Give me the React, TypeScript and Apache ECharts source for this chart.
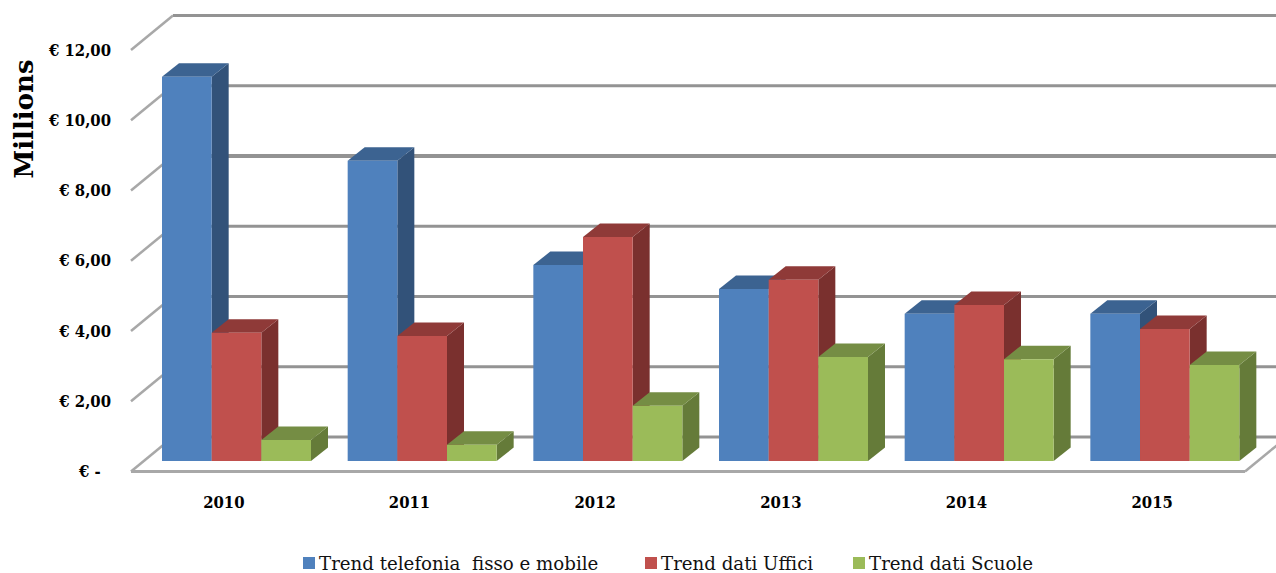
import React, { useEffect, useRef } from "react";
import * as echarts from "echarts";

const categories = ["2010", "2011", "2012", "2013", "2014", "2015"];
const telefonia = [10.94, 8.55, 5.58, 4.9, 4.19, 4.19];
const uffici = [3.65, 3.56, 6.38, 5.16, 4.44, 3.76];
const scuole = [0.6, 0.46, 1.57, 2.96, 2.9, 2.73];
const ticks = [0, 2, 4, 6, 8, 10, 12];
const names = ["Trend telefonia  fisso e mobile", "Trend dati Uffici", "Trend dati Scuole"];

const FONT = "'DejaVu Serif', serif";
const FONT_COND = "'DejaVu Serif Condensed', 'DejaVu Serif', serif";
const palette = [
  { face: "#4f81bd", top: "#3c6391", side: "#325279" },
  { face: "#c0504d", top: "#8f3a38", side: "#7a302e" },
  { face: "#9bbb59", top: "#758d44", side: "#657b39" },
];

const barSeries = (slot: number, values: number[]) => ({
  type: "custom",
  name: names[slot],
  coordinateSystem: "cartesian2d",
  itemStyle: { color: palette[slot].face },
  encode: { x: 0, y: 1 },
  z: 3 + slot,
  silent: true,
  data: values.map((v, i) => [i, v]),
  renderItem: (_p: any, api: any) => {
    const idx = api.value(0);
    const band = api.size([1, 0])[0];
    const top = api.coord([idx, api.value(1)]);
    const base = api.coord([idx, 0]);
    const w = band * 0.2675;
    const xL = top[0] - band / 2 + band * 0.167 + slot * w;
    const xR = xL + w;
    const yT = top[1] - 10.5;
    const yB = base[1] - 10.5;
    const dx = 17;
    const dy = -13.5;
    const c = palette[slot];
    return {
      type: "group",
      children: [
        {
          type: "polygon",
          shape: { points: [[xR, yT], [xR + dx, yT + dy], [xR + dx, yB + dy], [xR, yB]] },
          style: { fill: c.side },
        },
        {
          type: "polygon",
          shape: { points: [[xL, yT], [xL + dx, yT + dy], [xR + dx, yT + dy], [xR, yT]] },
          style: { fill: c.top },
        },
        { type: "rect", shape: { x: xL, y: yT, width: w, height: yB - yT }, style: { fill: c.face } },
      ],
    };
  },
});

const wallSeries = {
  type: "custom",
  coordinateSystem: "cartesian2d",
  encode: { x: 0, y: 1 },
  z: 1,
  silent: true,
  data: ticks.map((t) => [0, t]),
  renderItem: (params: any, api: any) => {
    const cs = params.coordSys;
    const v = api.value(1);
    const y = api.coord([0, v])[1];
    const x0 = cs.x;
    const x1 = cs.x + cs.width;
    const dx = 42;
    const dy = -34.5;
    const diag = { stroke: "#a8a8a8", lineWidth: 2.5 };
    const children: any[] = [
      { type: "line", shape: { x1: x0, y1: y, x2: x0 + dx, y2: y + dy }, style: diag },
      {
        type: "line",
        shape: { x1: x0 + dx, y1: y + dy, x2: x1 + dx, y2: y + dy },
        style: { stroke: "#939393", lineWidth: v === 8 ? 4 : 3 },
      },
    ];
    if (v === 0) {
      children.push(
        { type: "line", shape: { x1: x0, y1: y, x2: x1, y2: y }, style: { stroke: "#a8a8a8", lineWidth: 3 } },
        { type: "line", shape: { x1: x1, y1: y, x2: x1 + dx, y2: y + dy }, style: diag }
      );
    }
    return { type: "group", children };
  },
};

const legendAt = (name: string, left: number) => ({
  data: [name],
  left,
  top: 554,
  padding: 0,
  itemWidth: 12,
  itemHeight: 12,
  itemGap: 0,
  icon: "rect",
  selectedMode: false,
  textStyle: { fontFamily: FONT, fontSize: 18.2, lineHeight: 18, color: "#111", padding: [0, 0, 0, -1] },
});

export default function App() {
  const ref = useRef<HTMLDivElement>(null);
  useEffect(() => {
    const chart = echarts.init(ref.current!, undefined, { renderer: "svg" });
    chart.setOption({
      animation: false,
      backgroundColor: "#ffffff",
      grid: { left: 131, right: 31, top: 50, bottom: 101.5, containLabel: false },
      legend: [legendAt(names[0], 303), legendAt(names[1], 645), legendAt(names[2], 853)],
      xAxis: {
        type: "category",
        data: categories,
        axisLine: { show: false },
        axisTick: { show: false },
        axisLabel: { fontFamily: FONT_COND, fontWeight: "bold", fontSize: 16.5, color: "#000", margin: 22 },
      },
      yAxis: {
        type: "value",
        min: 0,
        max: 12,
        interval: 2,
        axisLine: { show: false },
        axisTick: { show: false },
        splitLine: { show: false },
        axisLabel: {
          fontFamily: FONT_COND,
          fontWeight: "bold",
          fontSize: 16.5,
          color: "#000",
          margin: 20,
          padding: [3, 0, 0, 0],
          formatter: (v: number) => (v === 0 ? "€ -  " : `€ ${v},00`),
        },
      },
      graphic: [
        {
          type: "text",
          x: 24,
          y: 119,
          rotation: Math.PI / 2,
          style: {
            text: "Millions",
            fontFamily: FONT,
            fontWeight: "bold",
            fontSize: 26,
            fill: "#000",
            align: "center",
            verticalAlign: "middle",
          },
        },
      ],
      series: [wallSeries, barSeries(0, telefonia), barSeries(1, uffici), barSeries(2, scuole)],
    });
    return () => chart.dispose();
  }, []);
  return <div ref={ref} style={{ position: "fixed", left: 0, top: 0, width: 1276, height: 573 }} />;
}
